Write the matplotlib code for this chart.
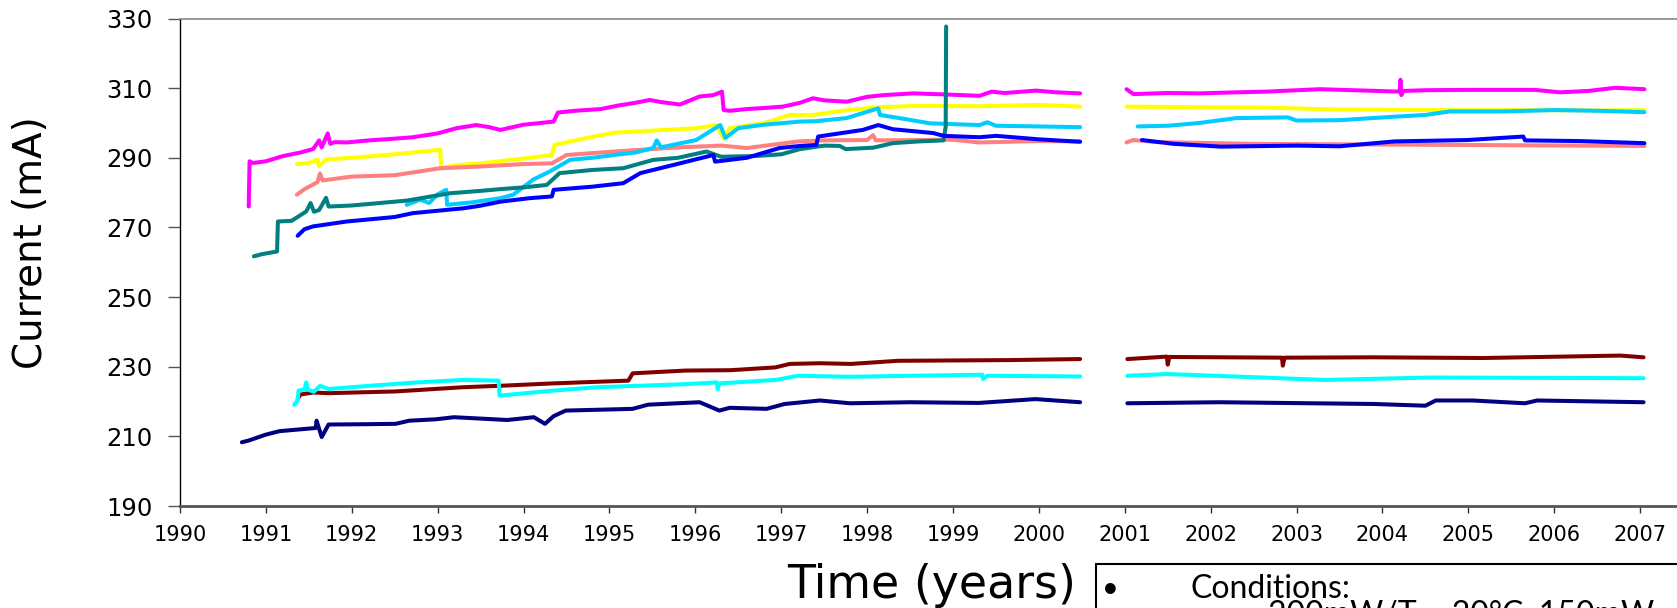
import numpy as np
import matplotlib
matplotlib.use("Agg")
import matplotlib.pyplot as plt
from matplotlib.patches import Rectangle

nan = np.nan

# ---------------- data (years, current in mA) ----------------
magenta_x = [1990.80, 1990.81, 1990.85, 1991.0, 1991.2, 1991.4, 1991.55, 1991.62, 1991.65, 1991.72,
             1991.75, 1991.8, 1991.94, 1992.2, 1992.5, 1992.71, 1993.0, 1993.22, 1993.45, 1993.6,
             1993.73, 1994.0, 1994.2, 1994.35, 1994.4, 1994.6, 1994.9, 1995.1, 1995.28, 1995.47,
             1995.6, 1995.82, 1996.05, 1996.21, 1996.31, 1996.33, 1996.4, 1996.6, 1996.8, 1997.02,
             1997.22, 1997.37, 1997.5, 1997.76, 1998.0, 1998.19, 1998.54, 1998.9, 1999.1, 1999.31,
             1999.45, 1999.6, 1999.97, 2000.2, 2000.48, 2000.75, 2001.02, 2001.1, 2001.5, 2001.87,
             2002.3, 2002.65, 2003.27, 2003.8, 2004.2, 2004.21, 2004.22, 2004.24, 2004.5, 2004.99,
             2005.4, 2005.77, 2006.07, 2006.4, 2006.71, 2007.05]
magenta_y = [276, 289, 288.5, 289, 290.5, 291.5, 292.5, 295, 293, 297,
             294, 294.5, 294.4, 295, 295.5, 295.9, 297, 298.5, 299.4, 298.8,
             298, 299.5, 300, 300.4, 303, 303.5, 304, 305, 305.7, 306.6,
             306, 305.3, 307.6, 308, 309, 303.7, 303.5, 304, 304.3, 304.7,
             305.8, 307.1, 306.5, 306.1, 307.5, 308, 308.5, 308.2, 308, 307.8,
             309, 308.6, 309.3, 308.8, 308.5, nan, 309.7, 308.3, 308.6, 308.5,
             308.8, 309, 309.7, 309.3, 309, 312.4, 308, 309.2, 309.4, 309.5,
             309.5, 309.5, 308.8, 309.2, 310.1, 309.7]

yellow_x = [1991.36, 1991.5, 1991.6, 1991.62, 1991.7, 1992.0, 1992.5, 1993.03, 1993.04, 1993.2,
            1993.5, 1994.0, 1994.33, 1994.36, 1994.7, 1995.05, 1995.5, 1996.01, 1996.25, 1996.33,
            1996.4, 1996.8, 1997.1, 1997.37, 1997.7, 1998.11, 1998.6, 1999.3, 2000.0, 2000.48,
            2000.75, 2001.02, 2002.0, 2002.65, 2003.43, 2004.5, 2005.5, 2006.5, 2007.05]
yellow_y = [288.2, 288.5, 289.5, 287.5, 289.5, 290, 291, 292.3, 287, 287.8,
            288.4, 289.8, 290.8, 293.7, 295.5, 297.2, 297.8, 298.5, 299.4, 295.5,
            298.5, 300, 302.3, 302.3, 303.5, 304.5, 304.9, 304.8, 305.2, 304.7,
            nan, 304.7, 304.5, 304.4, 303.9, 303.7, 303.7, 303.6, 303.7]

salmon_x = [1991.36, 1991.45, 1991.6, 1991.63, 1991.66, 1992.0, 1992.5, 1993.03, 1993.5, 1994.0,
            1994.33, 1994.5, 1995.05, 1995.82, 1996.3, 1996.6, 1997.2, 1997.5, 1998.0, 1998.07,
            1998.1, 1999.0, 1999.3, 2000.0, 2000.48, 2000.75, 2001.02, 2001.1, 2001.4, 2002.5,
            2004.0, 2005.5, 2007.05]
salmon_y = [279.4, 281, 283, 285.5, 283.5, 284.6, 285, 287, 287.5, 288.2,
            288.4, 290.8, 291.8, 293, 293.5, 292.8, 294.7, 295, 295.1, 296.5,
            295, 295.2, 294.4, 294.8, 294.7, nan, 294.4, 295.1, 294.5, 294,
            293.8, 293.6, 293.4]

teal_x = [1990.86, 1990.95, 1991.13, 1991.14, 1991.3, 1991.47, 1991.52, 1991.56, 1991.62, 1991.7,
          1991.73, 1992.0, 1992.64, 1993.14, 1993.5, 1993.73, 1994.0, 1994.27, 1994.42, 1994.8,
          1995.16, 1995.51, 1995.8, 1996.13, 1996.3, 1996.7, 1997.0, 1997.22, 1997.5, 1997.68,
          1997.75, 1998.07, 1998.3, 1998.6, 1998.89, 1998.915, 1998.92]
teal_y = [261.7, 262.3, 263.1, 271.7, 271.9, 274.6, 277, 274.5, 275, 278.5,
          276, 276.3, 277.7, 279.8, 280.5, 281, 281.5, 282.2, 285.6, 286.5,
          287, 289.4, 290, 291.8, 290.3, 290.5, 291, 292.5, 293.5, 293.4,
          292.5, 292.9, 294.2, 294.7, 295, 299, 327.7]

lightblue_x = [1992.64, 1992.8, 1992.9, 1993.0, 1993.1, 1993.11, 1993.4, 1993.73, 1993.88, 1994.11,
               1994.3, 1994.54, 1994.8, 1995.05, 1995.3, 1995.51, 1995.55, 1995.6, 1996.01, 1996.29,
               1996.35, 1996.5, 1996.8, 1997.22, 1997.4, 1997.76, 1998.13, 1998.15, 1998.4, 1998.73,
               1999.31, 1999.4, 1999.5, 2000.0, 2000.48, 2000.75, 2001.15, 2001.5, 2001.87, 2002.3,
               2002.9, 2003.0, 2003.5, 2004.14, 2004.5, 2004.78, 2005.4, 2006.0, 2006.5, 2007.05]
lightblue_y = [276.5, 278, 277, 279.5, 280.8, 276.5, 277.2, 278.4, 279.4, 283.7,
               286, 289.4, 290, 290.8, 291.5, 292.8, 295, 293, 295.1, 299.4,
               295.7, 298.5, 299.5, 300.4, 300.5, 301.4, 304.2, 302.3, 301.3, 299.9,
               299.4, 300.2, 299.2, 299, 298.8, nan, 299, 299.2, 300, 301.4,
               301.6, 300.7, 300.8, 301.8, 302.3, 303.3, 303.3, 303.7, 303.5, 303.1]

blue_x = [1991.37, 1991.45, 1991.55, 1991.94, 1992.5, 1992.71, 1993.3, 1993.49, 1993.73, 1994.07,
          1994.33, 1994.35, 1994.8, 1995.16, 1995.36, 1995.82, 1996.21, 1996.23, 1996.6, 1996.98,
          1997.22, 1997.41, 1997.43, 1997.95, 1998.13, 1998.3, 1998.77, 1998.89, 1999.31, 1999.5,
          2000.0, 2000.48, 2000.75, 2001.2, 2001.57, 2002.12, 2003.0, 2003.5, 2004.14, 2004.99,
          2005.64, 2005.66, 2006.3, 2007.05]
blue_y = [267.6, 269.5, 270.3, 271.7, 273, 274.1, 275.5, 276.2, 277.4, 278.4,
          278.9, 280.8, 281.7, 282.7, 285.6, 288.4, 290.8, 288.9, 290, 292.8,
          293.4, 293.7, 296.1, 298, 299.4, 298.2, 297.1, 296.3, 295.9, 296.3,
          295.3, 294.6, nan, 295.1, 294, 293.2, 293.5, 293.3, 294.7, 295.1,
          296.1, 295, 294.8, 294.2]

darkred_x = [1991.37, 1991.4, 1991.55, 1991.73, 1992.51, 1993.29, 1993.8, 1994.33, 1995.22, 1995.27,
             1995.89, 1996.41, 1996.93, 1997.1, 1997.45, 1997.81, 1998.36, 1999.65, 2000.48, 2000.75,
             2001.03, 2001.49, 2001.5, 2001.52, 2002.83, 2002.84, 2002.86, 2003.9, 2005.17, 2006.77,
             2007.04]
darkred_y = [220.7, 222, 222.6, 222.4, 222.9, 224.1, 224.6, 225.2, 226, 228.1,
             228.9, 229, 229.8, 230.8, 231, 230.8, 231.7, 231.9, 232.2, nan,
             232.2, 232.9, 230.6, 232.8, 232.6, 230.3, 232.6, 232.7, 232.5, 233.2,
             232.7]

cyan_x = [1991.33, 1991.37, 1991.38, 1991.45, 1991.47, 1991.49, 1991.56, 1991.63, 1991.73, 1992.25,
          1992.77, 1993.29, 1993.71, 1993.72, 1994.33, 1994.85, 1995.89, 1996.25, 1996.26, 1996.28,
          1996.93, 1997.2, 1997.8, 1998.5, 1999.34, 1999.35, 1999.4, 2000.48, 2000.75, 2001.03,
          2001.49, 2002.6, 2003.33, 2004.56, 2007.04]
cyan_y = [219.1, 220.3, 223.1, 223.5, 225.5, 223.4, 222.8, 224.5, 223.6, 224.6,
          225.5, 226.2, 226, 221.7, 223.1, 224.1, 225, 225.5, 223.5, 225.2,
          226.2, 227.4, 227.1, 227.4, 227.7, 226.5, 227.4, 227.2, nan, 227.4,
          227.9, 226.9, 226.2, 226.9, 226.7]

navy_x = [1990.72, 1990.8, 1991.0, 1991.16, 1991.58, 1991.59, 1991.65, 1991.73, 1992.2, 1992.51,
          1992.67, 1992.98, 1993.19, 1993.81, 1994.12, 1994.25, 1994.35, 1994.49, 1995.27, 1995.45,
          1996.05, 1996.28, 1996.4, 1996.83, 1997.04, 1997.45, 1997.8, 1998.5, 1999.3, 1999.96,
          2000.48, 2000.75, 2001.03, 2002.1, 2003.9, 2004.5, 2004.62, 2005.05, 2005.66, 2005.8,
          2007.04]
navy_y = [208.3, 208.8, 210.5, 211.5, 212.4, 214.5, 209.8, 213.4, 213.5, 213.6,
          214.5, 214.9, 215.5, 214.7, 215.5, 213.6, 215.8, 217.4, 217.9, 219.1,
          219.8, 217.4, 218.2, 217.9, 219.3, 220.3, 219.5, 219.8, 219.6, 220.7,
          219.8, nan, 219.5, 219.8, 219.3, 218.8, 220.3, 220.3, 219.5, 220.3,
          219.8]

series = [
    (magenta_x, magenta_y, "#FF00FF"),
    (yellow_x, yellow_y, "#FFFF00"),
    (salmon_x, salmon_y, "#FF8080"),
    (lightblue_x, lightblue_y, "#00CCFF"),
    (teal_x, teal_y, "#008080"),
    (blue_x, blue_y, "#0000FF"),
    (darkred_x, darkred_y, "#800000"),
    (cyan_x, cyan_y, "#00FFFF"),
    (navy_x, navy_y, "#000080"),
]

year_ticks = list(range(1990, 2008))
current_ticks = list(range(190, 331, 20))

# ---------------- figure ----------------
W, H = 1677, 608
fig = plt.figure(figsize=(W / 100, H / 100), dpi=100)
fig.patch.set_facecolor("white")

ax_left, ax_right = 180, 1726
ax_top, ax_bottom = 18.5, 506
ax = fig.add_axes([ax_left / W, (H - ax_bottom) / H,
                   (ax_right - ax_left) / W, (ax_bottom - ax_top) / H])

for xs, ys, c in series:
    ax.plot(xs, ys, color=c, lw=2.9, solid_joinstyle="round", solid_capstyle="round")

ax.set_xlim(1990, 2008)
ax.set_ylim(190, 330)
ax.set_xticks(year_ticks)
ax.set_xticklabels([str(t) for t in year_ticks])
ax.set_yticks(current_ticks)
ax.set_yticklabels([str(t) for t in current_ticks])

ax.spines["left"].set_color("black")
ax.spines["left"].set_linewidth(1.0)
ax.spines["bottom"].set_color("#555555")
ax.spines["bottom"].set_linewidth(2.0)
ax.spines["top"].set_color("#888888")
ax.spines["top"].set_linewidth(1.2)
ax.spines["right"].set_visible(False)

ax.tick_params(axis="y", direction="out", length=9, width=1.0, color="#555555",
               pad=11, labelsize=17.5, labelcolor="black")
ax.tick_params(axis="x", direction="out", length=5, width=1.0, color="#333333",
               pad=9, labelsize=15, labelcolor="black")

# axis titles
fig.text(31 / W, 1 - 243 / H, "Current (mA)", rotation=90, ha="center", va="center",
         fontsize=28, family="DejaVu Sans")
fig.text(932 / W, 1 - 586 / H, "Time (years)", ha="center", va="center",
         fontsize=33, family="DejaVu Sans")

# conditions box (cut off by the figure edge, as in the source image)
box = Rectangle((1096 / W, -0.2), 0.6, 0.2 + (H - 564) / H, transform=fig.transFigure,
                fill=False, ec="black", lw=1.5)
fig.add_artist(box)
fig.text(1110 / W, 1 - 589 / H, "\u2022", ha="center", va="center", fontsize=21,
         family=["Lato", "DejaVu Sans"])
fig.text(1190 / W, 1 - 589 / H, "Conditions:", ha="left", va="center", fontsize=23,
         family=["Lato", "DejaVu Sans"])
fig.text(1268 / W, 1 - 600 / H, "200mW/T = 20\u00b0C, 150mW", ha="left", va="top", fontsize=23,
         family=["Lato", "DejaVu Sans"])

fig.savefig("out.png", dpi=100, facecolor="white")
